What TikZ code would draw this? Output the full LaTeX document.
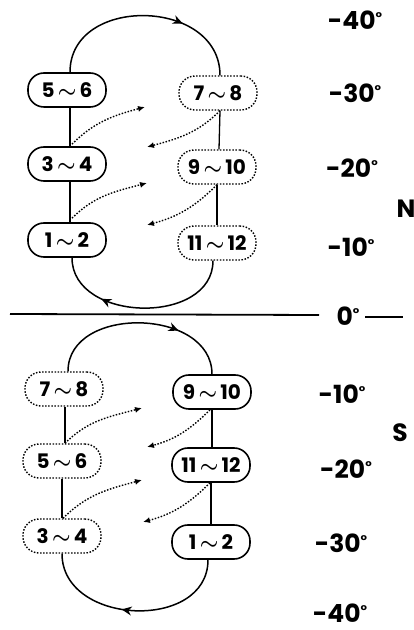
\documentclass[tikz,border=0pt]{standalone}
\usepackage{fontspec}
\newfontfamily\pop{Poppins}
\usetikzlibrary{arrows.meta,decorations.markings}
\newcommand{\tld}{\,{\boldmath$\sim$}\,}
\newcommand{\dg}{{\fontsize{14}{14}\selectfont\raisebox{7pt}{°}}}
\tikzset{
  box/.style={draw, line width=1.6pt, rounded corners=16pt, minimum width=78pt, minimum height=34pt, inner sep=0pt, font=\pop\bfseries\fontsize{20}{20}\selectfont},
  dbox/.style={box, line width=1.4pt, dash pattern=on 1.5pt off 1.6pt},
  loopline/.style={line width=1.5pt},
  link/.style={line width=1.3pt},
  darr/.style={dash pattern=on 1.5pt off 1.6pt, line width=1.4pt, -{Latex[length=7pt,width=6pt]}},
  lab/.style={inner sep=0pt, font=\pop\bfseries\fontsize{25}{25}\selectfont},
  midarrow/.style={postaction={decorate, decoration={markings, mark=at position #1 with {\arrow{Stealth[length=10pt,width=9pt]}}}}}
}
\begin{document}
\begin{tikzpicture}[x=1pt,y=1pt]
\useasboundingbox (0,0) rectangle (414,630);
% ---------- North ----------
\node[box]  (n56)   at (67,540) {5\tld6};
\node[box]  (n34)   at (67,466) {3\tld4};
\node[box]  (n12)   at (67,390) {1\tld2};
\node[dbox] (n78)   at (218,537) {7\tld8};
\node[dbox] (n910)  at (217,463) {9\tld10};
\node[dbox] (n1112) at (217,387) {11\tld12};
\draw[loopline, midarrow=0.68] ([xshift=3]n56.north) to[out=90,in=90,looseness=1.32] ([xshift=2]n78.north);
\draw[loopline, midarrow=0.72] ([xshift=-4]n1112.south) to[out=-90,in=-90,looseness=1.18] ([xshift=5]n12.south);
\draw[link] ([xshift=3]n56.south) -- ([xshift=3]n34.north);
\draw[link] ([xshift=3]n34.south) -- ([xshift=3]n12.north);
\draw[link] ([xshift=2]n78.south) -- ([xshift=2]n910.north);
\draw[link] (n910.south) -- (n1112.north);
\coordinate (a1) at (145,523);
\coordinate (a2) at (147,447);
\coordinate (a3) at (147,483);
\coordinate (a4) at (147,405);
\draw[darr] ([xshift=5,yshift=2]n34.north) to[out=45,in=195] (a1);
\draw[darr] ([xshift=5,yshift=4]n12.north) to[out=45,in=195] (a2);
\draw[darr] ([xshift=2]n78.south) to[out=225,in=15] (a3);
\draw[darr] (n910.south) to[out=225,in=15] (a4);
% ---------- Equator ----------
\node[lab] (zero) at (348,314) {0\dg};
\coordinate (eqA) at (10,316);
\coordinate (eqB) at (319,315);
\coordinate (eqC) at (365,313);
\coordinate (eqD) at (403,313);
\draw[line width=1.8pt] (eqA) -- (eqB);
\draw[line width=1.4pt] (eqC) -- (eqD);
% ---------- South ----------
\node[dbox] (s78)   at (64,241) {7\tld8};
\node[dbox] (s56)   at (62,169) {5\tld6};
\node[dbox] (s34)   at (62,94)  {3\tld4};
\node[box]  (s910)  at (212,238) {9\tld10};
\node[box]  (s1112) at (211,165) {11\tld12};
\node[box]  (s12)   at (211,88)  {1\tld2};
\draw[loopline, midarrow=0.7] ([xshift=4]s78.north) to[out=90,in=90,looseness=1.18] (s910.north);
\draw[loopline, midarrow=0.56] ([xshift=-3]s12.south) to[out=-90,in=-90,looseness=1.26] (s34.south);
\draw[link] ([xshift=1]s78.south) -- ([xshift=3]s56.north);
\draw[link] (s56.south) -- (s34.north);
\draw[link] (s910.south) -- ([xshift=1]s1112.north);
\draw[link] (s1112.south) -- (s12.north);
\coordinate (b1) at (142,222);
\coordinate (b2) at (142,150);
\coordinate (b3) at (147,183);
\coordinate (b4) at (143,108);
\draw[darr] ([xshift=3]s56.north) to[out=45,in=195] (b1);
\draw[darr] ([xshift=1]s34.north) to[out=45,in=195] (b2);
\draw[darr] ([xshift=-2]s910.south) to[out=225,in=15] (b3);
\draw[darr] ([xshift=-1]s1112.south) to[out=225,in=15] (b4);
% ---------- Scale ----------
\node[lab] (t40n) at (355,610) {-40\dg};
\node[lab] (t30n) at (355,537) {-30\dg};
\node[lab] (t20n) at (352,462) {-20\dg};
\node[lab] (tN)   at (406,421) {N};
\node[lab] (t10n) at (351,383) {-10\dg};
\node[lab] (t10s) at (342,236) {-10\dg};
\node[lab] (tS)   at (400,197) {S};
\node[lab] (t20s) at (346,161) {-20\dg};
\node[lab] (t30s) at (341,87)  {-30\dg};
\node[lab] (t40s) at (340,17)  {-40\dg};
\end{tikzpicture}
\end{document}
